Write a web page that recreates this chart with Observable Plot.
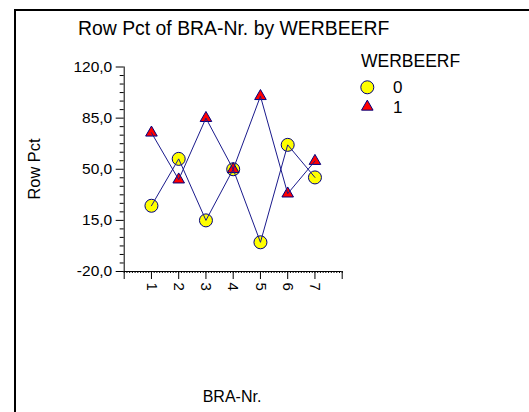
<!DOCTYPE html>
<html>
<head>
<meta charset="utf-8">
<script src="https://cdn.jsdelivr.net/npm/d3@7"></script>
<script src="https://cdn.jsdelivr.net/npm/@observablehq/plot@0.6"></script>
<style>
  html, body { margin: 0; padding: 0; background: #fff; }
  #chart { width: 529px; height: 412px; overflow: hidden; }
  svg { font-family: "Liberation Sans", Arial, sans-serif; }
</style>
</head>
<body>
<div id="chart"></div>
<script>
// ---- data ----
const categories = [1, 2, 3, 4, 5, 6, 7];
const series0 = [25.0, 57.1, 15.0, 50.0, 0.0, 66.7, 44.4];   // WERBEERF = 0
const series1 = [75.0, 42.9, 85.0, 50.0, 100.0, 33.3, 55.6]; // WERBEERF = 1
const seriesNames = ["0", "1"];
const yTicks = [-20, 15, 50, 85, 120];
const xTicks = [1, 2, 3, 4, 5, 6, 7];
const titleText = "Row Pct of BRA-Nr. by WERBEERF";
const xLabel = "BRA-Nr.";
const yLabel = "Row Pct";
const legendTitle = "WERBEERF";

const rows0 = categories.map((c, i) => ({x: c, y: series0[i]}));
const rows1 = categories.map((c, i) => ({x: c, y: series1[i]}));

const fmt = d => d.toFixed(1).replace(".", ",");
const minorY = d3.range(0, 25).map(i => -20 + i * 35 / 6).filter(v => !yTicks.some(t => Math.abs(t - v) < 1e-6));
const minorX = d3.range(0, 81).map(i => i / 10);

const navy = "#000080";
const lineColor = "#1a1a8c";

const svg = Plot.plot({
  width: 529,
  height: 412,
  marginLeft: 123.7,
  marginRight: 187.3,
  marginTop: 66.5,
  marginBottom: 141,
  style: {fontFamily: "'Liberation Sans', Arial, sans-serif", background: "#fff", color: "#000"},
  x: {domain: [0, 8]},
  y: {domain: [-20, 120]},
  marks: [
    Plot.axisX(minorX, {tickSize: 2, tickFormat: () => "", label: null, stroke: "#000"}),
    Plot.axisX([0, 8], {tickSize: 8, tickFormat: () => "", label: null, stroke: "#000"}),
    Plot.axisX(xTicks, {tickSize: 8, tickPadding: 3, tickRotate: 90, fontSize: 15, label: null, stroke: "#000", fill: "#000"}),
    Plot.axisY(minorY, {tickSize: 4, tickFormat: () => "", label: null, stroke: "#000"}),
    Plot.axisY(yTicks, {tickSize: 8, tickPadding: 4, tickFormat: fmt, fontSize: 15.5, label: null, stroke: "#000", fill: "#000"}),
    Plot.ruleX([0], {stroke: "#000"}),
    Plot.ruleY([-20], {stroke: "#000"}),
    Plot.dot(rows0, {x: "x", y: "y", r: 6.5, symbol: "circle", fill: "#ffff00", stroke: navy, strokeWidth: 1}),
    Plot.dot(rows1, {x: "x", y: "y", r: 4.3, symbol: "triangle", fill: "#ff0000", stroke: navy, strokeWidth: 1}),
    Plot.line(rows0, {x: "x", y: "y", stroke: lineColor, strokeWidth: 1}),
    Plot.line(rows1, {x: "x", y: "y", stroke: lineColor, strokeWidth: 1})
  ]
});

const s = d3.select(svg);
// frame border (left and top)
s.append("path").attr("d", "M15,412 V10 H529").attr("fill", "none").attr("stroke", "#000").attr("stroke-width", 2);
// title
s.append("text").attr("x", 78).attr("y", 35).attr("text-anchor", "start").attr("font-size", 19.4).attr("fill", "#000").text(titleText);
// axis labels
s.append("text").attr("transform", "translate(40,169) rotate(-90)").attr("text-anchor", "middle")
  .attr("font-size", 16.4).attr("fill", "#000").text(yLabel);
s.append("text").attr("x", 232).attr("y", 402).attr("text-anchor", "middle")
  .attr("font-size", 16).attr("fill", "#000").text(xLabel);
// legend
s.append("text").attr("x", 361).attr("y", 67).attr("text-anchor", "start").attr("font-size", 17.5).attr("fill", "#000").text(legendTitle);
const legendSymbols = [d3.symbolCircle, d3.symbolTriangle];
const legendFills = ["#ffff00", "#ff0000"];
const legendR = [6.5, 4.3];
seriesNames.forEach((name, i) => {
  const cy = 87.3 + i * 19.5;
  s.append("path")
    .attr("transform", `translate(367.3,${cy})`)
    .attr("d", d3.symbol(legendSymbols[i], legendR[i] * legendR[i] * Math.PI)())
    .attr("fill", legendFills[i]).attr("stroke", navy).attr("stroke-width", 1);
  s.append("text").attr("x", 393).attr("y", cy + 6).attr("text-anchor", "start").attr("font-size", 17).attr("fill", "#000").text(name);
});

document.getElementById("chart").appendChild(svg);
</script>
</body>
</html>
